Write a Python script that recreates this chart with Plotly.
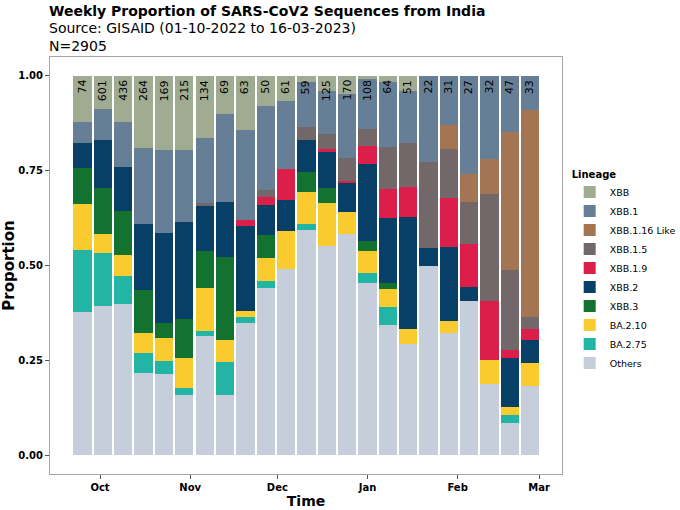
import pandas as pd
import plotly.graph_objects as go

# Weekly bins (week start, Sunday)
weeks = pd.date_range("2022-09-25", periods=23, freq="7D")

# Estimated weekly sequence counts per lineage
others   = [28, 236, 174, 57, 36, 34, 42, 11, 22, 22, 30, 35, 69, 99, 49, 22, 15, 11, 10, 11, 6, 4, 6]
ba_2_75  = [12, 85, 32, 14, 6, 4, 2, 6, 1, 1, 0, 1, 0, 0, 3, 3, 0, 0, 0, 0, 0, 1, 0]
ba_2_10  = [9, 29, 24, 14, 10, 17, 15, 4, 1, 3, 6, 5, 14, 10, 6, 3, 2, 0, 1, 0, 2, 1, 2]
xbb_3    = [7, 74, 51, 30, 7, 22, 13, 15, 0, 3, 0, 3, 5, 0, 3, 1, 0, 0, 0, 0, 0, 0, 0]
xbb_2    = [5, 75, 50, 46, 40, 55, 16, 10, 14, 4, 5, 5, 12, 13, 22, 11, 15, 1, 6, 1, 0, 6, 2]
xbb_1_9  = [0, 0, 0, 0, 0, 0, 0, 0, 1, 1, 5, 0, 1, 1, 5, 5, 4, 0, 4, 3, 5, 1, 1]
xbb_1_5  = [0, 0, 0, 0, 0, 0, 1, 0, 0, 1, 0, 2, 5, 10, 5, 7, 6, 5, 4, 3, 9, 10, 1]
xbb_1_16 = [0, 0, 0, 0, 0, 0, 0, 0, 0, 0, 0, 0, 0, 0, 0, 0, 0, 0, 2, 2, 3, 17, 18]
xbb_1    = [4, 50, 52, 53, 37, 41, 23, 16, 15, 11, 11, 7, 14, 29, 14, 11, 7, 5, 4, 7, 7, 7, 3]
xbb      = [9, 52, 53, 50, 33, 42, 22, 7, 9, 4, 4, 1, 5, 8, 1, 1, 2, 0, 0, 0, 0, 0, 0]

# Weekly totals shown on top of the bars
week_totals = [74, 601, 436, 264, 169, 215, 134, 69, 63, 50, 61, 59, 125, 170, 108, 64, 51, 22, 31, 27, 32, 47, 33]

# bottom -> top stacking order
lineages = ["Others", "BA.2.75", "BA.2.10", "XBB.3", "XBB.2", "XBB.1.9", "XBB.1.5", "XBB.1.16 Like", "XBB.1", "XBB"]
series = [others, ba_2_75, ba_2_10, xbb_3, xbb_2, xbb_1_9, xbb_1_5, xbb_1_16, xbb_1, xbb]
colors = ["#C5CEDA", "#22B5A6", "#F9CB2E", "#13722F", "#083F66", "#DC1E4B", "#726769", "#A47552", "#677F96", "#A0AC91"]

FONT = "DejaVu Sans"
day_ms = 86400000
bar_width = 6.3 * day_ms

fig = go.Figure()
for name, vals, col in zip(lineages, series, colors):
    props = [v / t for v, t in zip(vals, week_totals)]
    fig.add_trace(go.Bar(
        x=weeks, y=props, name=name, width=bar_width,
        marker=dict(color=col, line=dict(width=0)),
    ))

for d, t in zip(weeks, week_totals):
    fig.add_annotation(
        x=d, y=1, xref="x", yref="y", text=str(t), showarrow=False,
        textangle=-90, yanchor="top", xanchor="center", yshift=-2,
        font=dict(family=FONT, size=11, color="black"),
    )

fig.add_annotation(
    x=0, y=1, xref="paper", yref="paper",
    text="<b>Weekly Proportion of SARS-CoV2 Sequences from India</b>",
    showarrow=False, xanchor="left", yanchor="middle", yshift=46, xshift=-2,
    borderpad=0, font=dict(family=FONT, size=14, color="black"),
)
fig.add_annotation(
    x=0, y=1, xref="paper", yref="paper",
    text="Source: GISAID (01-10-2022 to 16-03-2023)<br>N=2905",
    showarrow=False, xanchor="left", yanchor="middle", yshift=20, xshift=-2,
    align="left", borderpad=0, font=dict(family=FONT, size=14, color="black"),
)

x_left = pd.Timestamp("2022-10-01") - pd.Timedelta(days=17.2)
x_right = pd.Timestamp("2023-03-01") + pd.Timedelta(days=7.9)

fig.update_layout(
    width=680, height=510,
    margin=dict(l=50, r=118, t=57, b=36, autoexpand=False),
    barmode="stack", bargap=0,
    plot_bgcolor="white", paper_bgcolor="white",
    font=dict(family=FONT, color="black"),
    showlegend=True,
    legend=dict(
        title=dict(text="<b>Lineage</b>", font=dict(family=FONT, size=10)),
        traceorder="reversed",
        x=1.015, xanchor="left", y=0.742, yanchor="top",
        font=dict(family=FONT, size=9.5),
        bgcolor="rgba(0,0,0,0)",
    ),
    xaxis=dict(
        type="date", range=[x_left, x_right],
        tick0="2022-10-01", dtick="M1", tickformat="%b",
        ticks="outside", ticklen=4, tickcolor="#555555",
        tickfont=dict(family=FONT, size=10, color="black", weight="bold"),
        showgrid=False, zeroline=False,
        showline=True, mirror=True, linecolor="#a6a6a6", linewidth=1,
        title=dict(text="<b>Time</b>", font=dict(family=FONT, size=14), standoff=1),
    ),
    yaxis=dict(
        range=[-0.05, 1.05],
        tickvals=[0, 0.25, 0.5, 0.75, 1.0],
        ticktext=["0.00", "0.25", "0.50", "0.75", "1.00"],
        ticks="outside", ticklen=4, tickcolor="#555555",
        tickfont=dict(family=FONT, size=10, color="black", weight="bold"),
        showgrid=False, zeroline=False,
        showline=True, mirror=True, linecolor="#a6a6a6", linewidth=1,
        title=dict(text="<b>Proportion</b>", font=dict(family=FONT, size=15), standoff=6),
    ),
)

fig.write_html(
    "out.html",
    config={"displayModeBar": False},
    post_script="document.body.style.margin='0';",
)
